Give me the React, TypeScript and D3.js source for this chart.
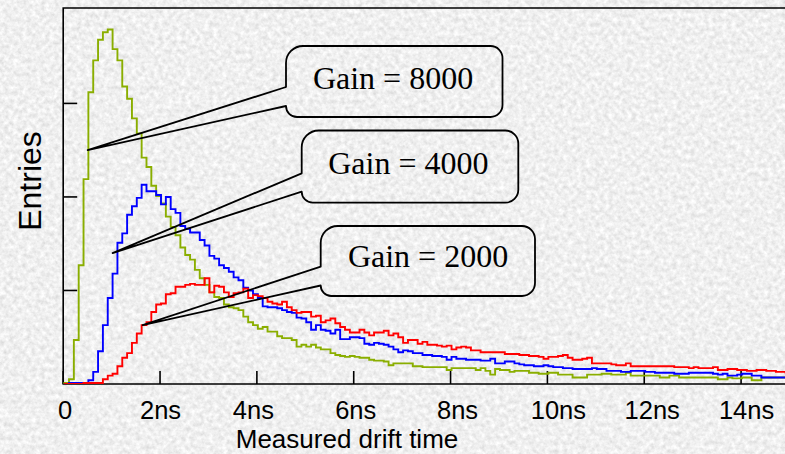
import React from "react";
import * as d3 from "d3";

// ---- data (entries per 0.1 ns bin, first bin starts at 0.02 ns) ----
const BIN_START = 0.02;
const BIN_WIDTH = 0.1;

const gain8000: number[] = [
  1, 5, 47, 127, 219, 312, 346, 368, 376, 379,
  358, 346, 318, 305, 284, 268, 242, 232, 212, 201,
  193, 179, 168, 159, 146, 138, 133, 122, 113, 106,
  98, 93, 92, 85, 82, 81, 79, 72, 66, 63,
  59, 61, 56, 56, 51, 49, 49, 47, 40, 42,
  40, 42, 39, 37, 37, 33, 31, 30, 29, 30,
  29, 28, 28, 26, 25, 25, 24, 20, 22, 22,
  22, 22, 19, 19, 18, 18, 18, 18, 18, 15,
  17, 17, 17, 17, 17, 15, 17, 14, 10, 16,
  15, 15, 13, 14, 14, 14, 12, 12, 11, 11,
  12, 12, 10, 10, 10, 7, 7, 7, 10, 10,
  10, 11, 11, 10, 10, 10, 12, 9, 9, 9,
  9, 9, 9, 7, 7, 9, 9, 7, 7, 7,
  7, 7, 7, 7, 7, 5, 5, 7, 6, 6,
  7, 7, 4, 4, 7, 7, 7, 7, 7, 7,
];

const gain4000: number[] = [
  0, 1, 1, 1, 1, 4, 13, 35, 63, 92,
  118, 151, 161, 181, 190, 199, 213, 206, 206, 202,
  192, 200, 187, 183, 169, 166, 162, 162, 154, 148,
  137, 134, 127, 124, 120, 114, 111, 103, 100, 96,
  92, 83, 82, 82, 81, 79, 77, 76, 71, 70,
  66, 58, 63, 58, 57, 54, 58, 48, 48, 50,
  50, 49, 43, 42, 44, 43, 42, 40, 37, 34,
  36, 35, 33, 33, 31, 31, 30, 30, 29, 26,
  29, 27, 27, 26, 26, 26, 25, 25, 27, 22,
  22, 24, 24, 22, 21, 20, 20, 19, 19, 20,
  19, 18, 18, 17, 17, 16, 16, 16, 16, 17,
  16, 16, 14, 14, 14, 13, 13, 14, 14, 14,
  13, 13, 12, 12, 12, 12, 11, 11, 11, 12,
  12, 12, 12, 12, 11, 10, 11, 9, 9, 10,
  11, 11, 9, 9, 7, 7, 7, 7, 7, 7,
];

const gain2000: number[] = [
  0, 0, 0, 0, 1, 1, 1, 1, 5, 9,
  11, 19, 28, 33, 44, 54, 63, 66, 77, 85,
  86, 96, 97, 104, 104, 106, 107, 106, 106, 113,
  98, 105, 104, 98, 93, 97, 98, 102, 92, 95,
  94, 92, 88, 86, 85, 88, 82, 79, 76, 77,
  77, 72, 73, 66, 68, 70, 65, 61, 58, 55,
  55, 58, 55, 52, 55, 55, 57, 52, 54, 50,
  44, 47, 47, 43, 45, 42, 42, 41, 40, 41,
  37, 39, 40, 39, 36, 36, 34, 34, 34, 34,
  34, 32, 32, 32, 31, 31, 30, 30, 29, 27,
  29, 29, 30, 31, 28, 26, 26, 27, 28, 22,
  22, 22, 22, 21, 20, 20, 22, 19, 19, 19,
  19, 19, 19, 19, 19, 19, 18, 18, 18, 17,
  18, 17, 17, 17, 18, 15, 15, 16, 16, 15,
  15, 14, 14, 15, 15, 14, 14, 13, 13, 12,
];

const seriesColors = ["#8aae00", "#0000ff", "#ff0000"];
const seriesData = [gain8000, gain4000, gain2000];

const xTickValues = [0, 2, 4, 6, 8, 10, 12, 14];
const xTickLabels = ["0", "2ns", "4ns", "6ns", "8ns", "10ns", "12ns", "14ns"];
const yTickValues = [100, 200, 300];

const calloutLabels = ["Gain = 8000", "Gain = 4000", "Gain = 2000"];
const calloutTipT = [0.505, 1.02, 1.64];
const calloutTipV = [250, 140, 63];

// ---- layout ----
const W = 785;
const H = 454;
const X0 = 63.2;
const X_MAX = 15;
const PX_PER_NS = 48.42;
const Y_TOP = 8;
const Y_BOTTOM = 384;
const Y_MAX = 402;
const TICK_LABEL_NUDGE = [2, 0.5, -3.5, 2, 7, 11, 8, 5.5];

// bubble boxes: [left, top, right, bottom, topLeftR, rightR, pointerTop, pointerBottom, textX, textBaseline]
const bubbleBoxes = [
  [286, 46, 502.5, 117, 17, 12, 87, 106, 393, 89],
  [301.7, 130.5, 518.3, 202.7, 17, 13, 173.3, 191.7, 408.3, 174],
  [320.7, 226, 535, 296, 17, 13, 266.7, 285.5, 428, 267],
];

function bubblePath(b: number[], tipX: number, tipY: number) {
  const [L, T, R, B, r, rr, yb1, yb2] = b;
  const rb = B - yb2;
  return [
    `M${L},${yb1}`,
    `L${L},${T + r}`,
    `A${r},${r} 0 0 1 ${L + r},${T}`,
    `L${R - rr},${T}`,
    `A${rr},${rr} 0 0 1 ${R},${T + rr}`,
    `L${R},${B - rr}`,
    `A${rr},${rr} 0 0 1 ${R - rr},${B}`,
    `L${L + rb},${B}`,
    `A${rb},${rb} 0 0 1 ${L},${yb2}`,
    `L${tipX},${tipY}`,
    "Z",
  ].join(" ");
}

export default function App() {
  const x = d3.scaleLinear().domain([0, X_MAX]).range([X0, X0 + X_MAX * PX_PER_NS]);
  const y = d3.scaleLinear().domain([0, Y_MAX]).range([Y_BOTTOM, Y_TOP]);

  const line = d3
    .line<[number, number]>()
    .x((d) => x(d[0]))
    .y((d) => y(d[1]))
    .curve(d3.curveStepAfter);

  const histPath = (vals: number[]) => {
    const pts: [number, number][] = [[BIN_START, 0]];
    vals.forEach((v, i) => pts.push([BIN_START + i * BIN_WIDTH, v]));
    pts.push([BIN_START + vals.length * BIN_WIDTH, vals[vals.length - 1]]);
    return line(pts) || "";
  };

  const xRight = x(X_MAX);
  const sans = "'Liberation Sans', Arial, sans-serif";
  const serif = "'Liberation Serif', 'Times New Roman', serif";

  return (
    <svg
      width={W}
      height={H}
      style={{ position: "absolute", left: 0, top: 0, display: "block" }}
    >
      <defs>
        <filter id="granite" x="0" y="0" width="100%" height="100%">
          <feTurbulence type="fractalNoise" baseFrequency="0.22" numOctaves="3" seed="7" />
          <feColorMatrix
            type="matrix"
            values="0.42 0 0 0 0.66  0.42 0 0 0 0.66  0.42 0 0 0 0.66  0 0 0 0 1"
          />
        </filter>
        <clipPath id="plotClip">
          <rect x={X0} y={Y_TOP} width={xRight - X0} height={Y_BOTTOM - Y_TOP} />
        </clipPath>
      </defs>

      <rect x={0} y={0} width={W} height={H} fill="#dedede" />
      <rect x={0} y={0} width={W} height={H} filter="url(#granite)" />

      {/* frame */}
      <path
        d={`M${xRight},${Y_TOP} L${X0},${Y_TOP} L${X0},${Y_BOTTOM} L${xRight},${Y_BOTTOM}`}
        fill="none"
        stroke="#000"
        strokeWidth={1.6}
      />

      {/* x ticks */}
      {xTickValues.map((v, i) => (
        <g key={"xt" + i}>
          <line x1={x(v)} x2={x(v)} y1={Y_BOTTOM} y2={Y_BOTTOM - 13} stroke="#000" strokeWidth={1.6} />
          <text
            x={x(v) + TICK_LABEL_NUDGE[i]}
            y={419}
            textAnchor="middle"
            fontFamily={sans}
            fontSize={25.5}
            fill="#000"
          >
            {xTickLabels[i]}
          </text>
        </g>
      ))}

      {/* y ticks */}
      {yTickValues.map((v, i) => (
        <line key={"yt" + i} x1={X0} x2={X0 + 14} y1={y(v)} y2={y(v)} stroke="#000" strokeWidth={1.6} />
      ))}

      {/* histograms */}
      <g clipPath="url(#plotClip)">
        {seriesData.map((vals, i) => (
          <path
            key={"h" + i}
            d={histPath(vals)}
            fill="none"
            stroke={seriesColors[i]}
            strokeWidth={1.9}
            strokeLinejoin="miter"
          />
        ))}
      </g>

      {/* callouts */}
      {bubbleBoxes.map((b, i) => {
        const tx = x(calloutTipT[i]);
        const ty = y(calloutTipV[i]);
        return (
          <g key={"c" + i}>
            <path d={bubblePath(b, tx, ty)} fill="none" stroke="#000" strokeWidth={1.8} strokeLinejoin="round" />
            <text
              x={b[8]}
              y={b[9]}
              textAnchor="middle"
              fontFamily={serif}
              fontSize={32}
              fill="#000"
            >
              {calloutLabels[i]}
            </text>
          </g>
        );
      })}

      {/* axis titles */}
      <text x={347} y={448} textAnchor="middle" fontFamily={sans} fontSize={26} fill="#000">
        Measured drift time
      </text>
      <text
        transform={`translate(41,181) rotate(-90)`}
        textAnchor="middle"
        fontFamily={sans}
        fontSize={32}
        fill="#000"
      >
        Entries
      </text>
    </svg>
  );
}
